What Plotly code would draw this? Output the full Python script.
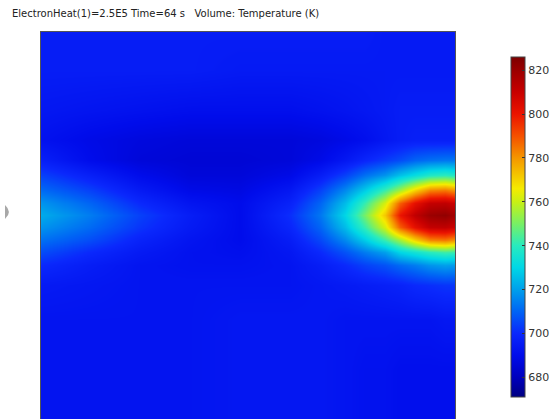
import plotly.graph_objects as go

# Sample positions across the domain (normalised width / depth from the top face)
x_pos = [0.0, 0.118, 0.239, 0.360, 0.481, 0.601, 0.674, 0.734, 0.783,
         0.831, 0.867, 0.903, 0.940, 0.976, 1.0]
y_pos = [0.0, 0.098, 0.202, 0.279, 0.331, 0.370, 0.408, 0.442, 0.473,
         0.504, 0.537, 0.568, 0.602, 0.654, 0.744, 0.873, 1.0]

# Temperature (K) at each sample point, one row per depth
temperature = [
    [696, 696, 696, 696, 696, 696, 696, 696, 696, 695, 695, 695, 695, 695, 695],
    [696, 696, 696, 696, 695, 695, 695, 695, 695, 695, 695, 695, 695, 695, 695],
    [694, 693, 692, 691, 691, 691, 692, 693, 694, 695, 696, 696, 696, 696, 696],
    [692, 689, 687, 686, 686, 686, 687, 689, 691, 694, 696, 697, 697, 697, 697],
    [697, 690, 686, 685, 685, 686, 689, 694, 699, 703, 706, 710, 712, 713, 713],
    [704, 697, 690, 686, 686, 689, 696, 704, 712, 718, 726, 732, 738, 740, 738],
    [711, 704, 695, 689, 688, 694, 704, 716, 728, 742, 755, 770, 782, 784, 780],
    [718, 710, 700, 693, 690, 698, 710, 725, 742, 762, 788, 802, 811, 812, 809],
    [722, 714, 704, 696, 690, 701, 713, 730, 750, 772, 800, 812, 820, 822, 818],
    [718, 711, 702, 695, 690, 699, 710, 725, 742, 762, 788, 802, 811, 812, 809],
    [712, 706, 698, 693, 690, 696, 705, 716, 728, 742, 755, 770, 782, 784, 780],
    [706, 700, 695, 692, 691, 694, 700, 707, 714, 720, 730, 735, 740, 743, 742],
    [700, 696, 693, 692, 692, 693, 696, 700, 704, 707, 711, 714, 718, 720, 719],
    [695, 694, 693, 693, 693, 693, 694, 695, 696, 697, 698, 700, 701, 702, 702],
    [693, 693, 693, 693, 694, 694, 694, 693, 693, 693, 693, 693, 693, 694, 694],
    [693, 693, 693, 693, 694, 694, 694, 693, 692, 692, 691, 691, 691, 691, 691],
    [693, 693, 693, 693, 694, 694, 694, 693, 692, 692, 691, 691, 691, 691, 691],
]

colorbar_ticks = [680, 700, 720, 740, 760, 780, 800, 820]
t_min, t_max = 671, 826

title_text = "ElectronHeat(1)=2.5E5 Time=64 s   Volume: Temperature (K)"

# Rainbow colour table anchored at temperatures
rainbow = [
    (671, "rgb(0,0,130)"), (680, "rgb(0,0,190)"), (690, "rgb(0,12,235)"),
    (700, "rgb(10,40,252)"), (710, "rgb(0,100,245)"), (720, "rgb(0,160,235)"),
    (730, "rgb(0,215,230)"), (740, "rgb(40,235,190)"), (750, "rgb(120,240,100)"),
    (760, "rgb(200,240,20)"), (766, "rgb(245,235,0)"), (780, "rgb(245,150,0)"),
    (790, "rgb(245,80,0)"), (800, "rgb(235,20,0)"), (810, "rgb(200,0,0)"),
    (820, "rgb(155,0,0)"), (826, "rgb(125,0,0)"),
]
colorscale = [[(t - t_min) / (t_max - t_min), c] for t, c in rainbow]

W, H = 559, 419
left, right, top, bottom = 41, 455, 32, 419
plot_w, plot_h = right - left, bottom - top

fig = go.Figure(
    go.Heatmap(
        x=x_pos, y=y_pos, z=temperature,
        zsmooth="best",
        colorscale=colorscale, zmin=t_min, zmax=t_max,
        colorbar=dict(
            tickvals=colorbar_ticks,
            ticks="inside", ticklen=3, tickcolor="#333",
            tickfont=dict(family="DejaVu Sans", size=11, color="#333"),
            thickness=14,
            lenmode="pixels", len=340,
            x=(511 - left) / plot_w, xanchor="left", xpad=0,
            y=(bottom - 227) / plot_h, yanchor="middle", ypad=0,
            outlinewidth=1, outlinecolor="#444",
        ),
        hoverinfo="skip",
    )
)

fig.update_xaxes(range=[0, 1], showgrid=False, zeroline=False, showticklabels=False,
                 ticks="", showline=True, mirror=True, linecolor="#555", linewidth=1)
fig.update_yaxes(range=[1, 0], showgrid=False, zeroline=False, showticklabels=False,
                 ticks="", showline=True, mirror=True, linecolor="#555", linewidth=1)

fig.update_layout(
    width=W, height=H,
    margin=dict(l=left, r=W - right, t=top, b=H - bottom),
    paper_bgcolor="white", plot_bgcolor="white",
    title=dict(text=title_text, x=12 / W, xanchor="left", y=1 - 13 / H, yanchor="middle",
               font=dict(family="DejaVu Sans", size=10, color="#222")),
    shapes=[
        # window-frame handle at the left edge
        dict(type="path", xref="paper", yref="paper",
             path="M -0.087 0.553 Q -0.068 0.535 -0.087 0.517 Z",
             fillcolor="#a8a8a8", line=dict(width=0)),
    ],
)

fig.write_html("out.html")
